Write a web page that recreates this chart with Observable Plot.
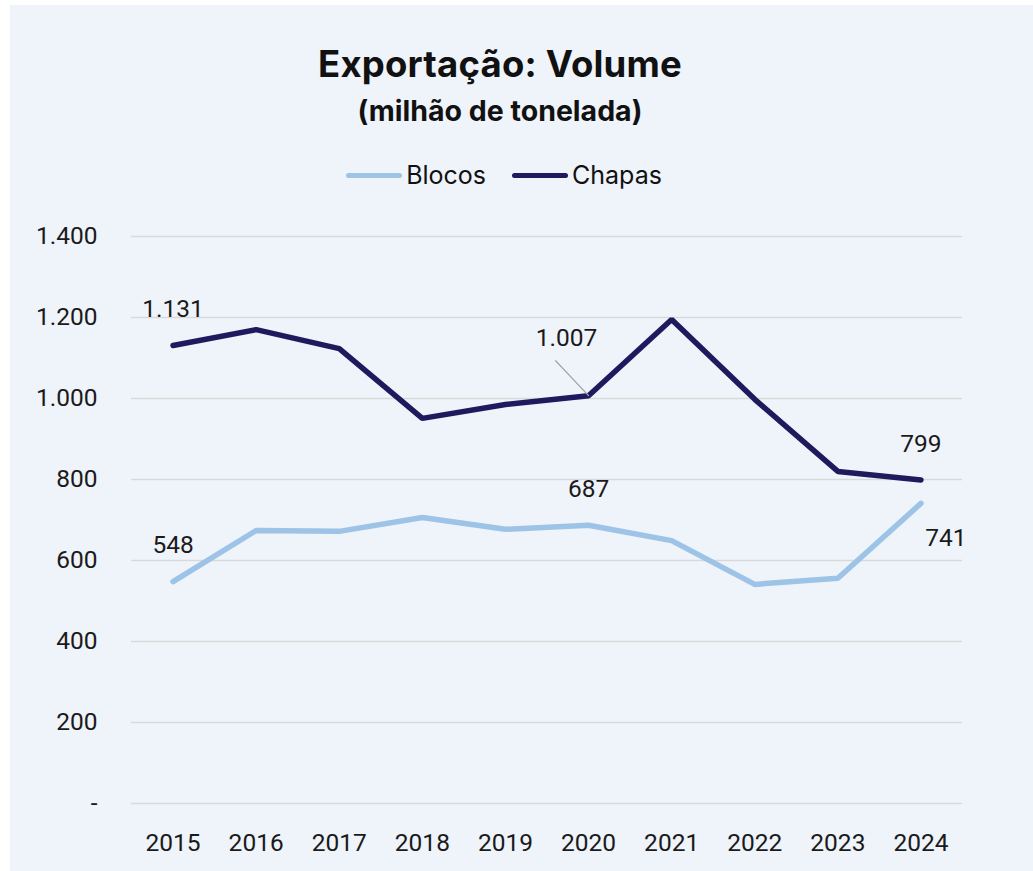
<!DOCTYPE html>
<html>
<head>
<meta charset="utf-8">
<script src="https://cdn.jsdelivr.net/npm/d3@7"></script>
<script src="https://cdn.jsdelivr.net/npm/@observablehq/plot@0.6"></script>
<style>
  html, body { margin: 0; padding: 0; background: #ffffff; }
  #frame { position: absolute; left: 10px; top: 5px; width: 1023px; height: 866px; background: #eff3fa; }
  #title { position: absolute; left: 0; top: 42px; width: 1000px; text-align: center; font-family: Inter, sans-serif; font-weight: 700; font-size: 36.5px; color: #111; letter-spacing: 0.2px; }
  #subtitle { position: absolute; left: 0; top: 93px; width: 1000px; text-align: center; font-family: Inter, sans-serif; font-weight: 700; font-size: 28.5px; color: #111; }
  #legend { position: absolute; left: 0; top: 160px; width: 1008px; display: flex; justify-content: center; align-items: center; font-family: Inter, sans-serif; font-size: 25px; color: #111; }
  .item { display: flex; align-items: center; margin: 0 13px; }
  .sw { width: 56px; height: 5px; border-radius: 3px; margin-right: 4px; }
  #chart { position: absolute; left: 0; top: 200px; }
</style>
</head>
<body>
<div id="frame"></div>
<div id="title">Exportação: Volume</div>
<div id="subtitle">(milhão de tonelada)</div>
<div id="legend"></div>
<div id="chart"></div>
<script>
const years = [2015, 2016, 2017, 2018, 2019, 2020, 2021, 2022, 2023, 2024];
const blocos = [548, 674, 672, 706, 677, 687, 649, 541, 556, 741];
const chapas = [1131, 1170, 1123, 951, 985, 1007, 1195, 998, 820, 799];
const seriesNames = ["Blocos", "Chapas"];
const seriesColors = ["#9dc3e6", "#1f1a5e"];
const yTicks = [0, 200, 400, 600, 800, 1000, 1200, 1400];

const fmt = v => v === 0 ? "-" : d3.format(",")(v).replace(/,/g, ".");

const data = [];
years.forEach((yr, i) => {
  data.push({year: yr, series: "Blocos", value: blocos[i]});
  data.push({year: yr, series: "Chapas", value: chapas[i]});
});
const lab = (s, yr) => data.find(d => d.series === s && d.year === yr);

// legend
const legend = document.getElementById("legend");
seriesNames.forEach((n, i) => {
  const it = document.createElement("div");
  it.className = "item";
  it.innerHTML = `<div class="sw" style="background:${seriesColors[i]}"></div><span>${n}</span>`;
  legend.appendChild(it);
});

const fontStyle = {fontFamily: "Roboto, sans-serif", fontSize: "24.5px", color: "#1a1a1a"};
const labelFont = {fontFamily: "Roboto", fontSize: 24.5, fill: "#1a1a1a"};

const plot = Plot.plot({
  width: 1033,
  height: 671,
  marginLeft: 131,
  marginRight: 71,
  marginTop: 36,
  marginBottom: 68,
  style: {background: "transparent", ...fontStyle},
  x: {domain: [2014.5, 2024.5], ticks: years, tickFormat: d => String(d), tickSize: 0, tickPadding: 30, label: null},
  y: {domain: [0, 1400], ticks: yTicks, tickFormat: fmt, tickSize: 0, tickPadding: 34, label: null},
  color: {domain: seriesNames, range: seriesColors},
  marks: [
    Plot.ruleY(yTicks, {stroke: "#d9d9d9", strokeWidth: 1.6}),
    Plot.line(data, {x: "year", y: "value", stroke: "series", z: "series", strokeWidth: 5.5, strokeLinecap: "round", strokeLinejoin: "miter"}),
    Plot.text([lab("Chapas", 2015), lab("Blocos", 2015), lab("Blocos", 2020), lab("Chapas", 2024)],
      {x: "year", y: "value", text: d => fmt(d.value), dy: -36, ...labelFont}),
    Plot.text([lab("Chapas", 2020)], {x: "year", y: "value", text: d => fmt(d.value), dx: -22, dy: -58, ...labelFont}),
    Plot.text([lab("Blocos", 2024)], {x: "year", y: "value", text: d => fmt(d.value), dx: 25, dy: 35, ...labelFont}),
    Plot.vector([lab("Chapas", 2020)], {x: "year", y: "value", length: 48, rotate: -43.3, anchor: "start", stroke: "#a6a6a6", strokeWidth: 1.3,
      shape: {draw(context, l) { context.moveTo(0, 0); context.lineTo(0, -l); }}})
  ]
});
document.getElementById("chart").appendChild(plot);
</script>
</body>
</html>
